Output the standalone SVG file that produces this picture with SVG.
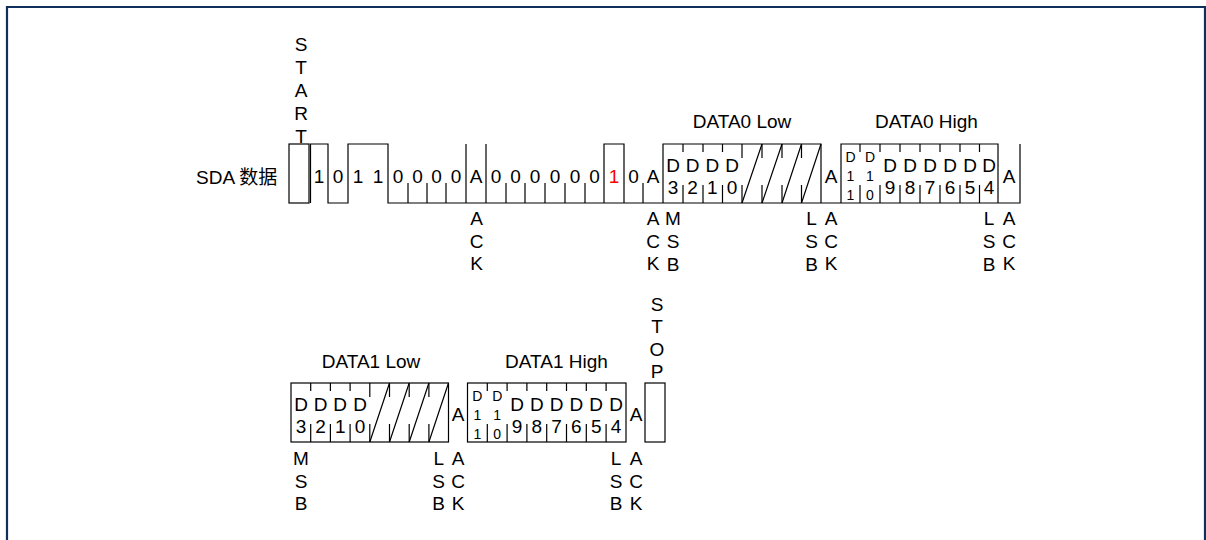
<svg xmlns="http://www.w3.org/2000/svg" width="1206" height="540" viewBox="0 0 1206 540">
<style>
.w{fill:none;stroke:#000;stroke-width:1.2}
.t{font-family:"Liberation Sans",Arial,sans-serif;font-size:19px;text-anchor:middle;fill:#000}
.s{font-size:14px}
.r{fill:#ff0000}
.cjk{font-family:"Liberation Sans","Noto Sans CJK SC",sans-serif;font-size:19px;fill:#000}
</style>
<rect x="0" y="0" width="1206" height="540" fill="#fff"/>
<path d="M7,540 V7 H1205 V540" fill="none" stroke="#0f2f5c" stroke-width="2.2"/>

<g id="signal-label"><text class="cjk" x="196" y="184">SDA 数据</text></g>

<g id="row1-wave" class="w">
<rect x="289" y="144" width="20" height="59"/>
<path d="M310.5,203 V144 H328 V203 H348 V144 H388 V203 H1020 V144"/>
<path d="M408,203 V183 M427,203 V183 M446,203 V183 M506,203 V183 M525,203 V183 M545,203 V183 M565,203 V183 M585,203 V183 M643,203 V183"/>
<path d="M466,144 V203 M486,144 V203"/>
<path d="M604,203 V144 H624 V203"/>
</g>

<g id="data0-low" class="w">
<path d="M663,203 V144 H821 V203"/>
<path d="M683,144 V152 M703,144 V152 M722.5,144 V152 M742,144 V158 M762,144 V158 M782,144 V158 M801.5,144 V158"/>
<path d="M683,185 V203 M703,185 V203 M722.5,185 V203 M742,185 V203 M762,185 V203 M782,185 V203 M801.5,185 V203"/>
<path d="M742,203 L762,144 M762,203 L782,144 M782,203 L801.5,144 M801.5,203 L821,144"/>
</g>

<g id="data0-high" class="w">
<path d="M841,203 V144 H998 V203"/>
<path d="M860,144 V152 M880,144 V152 M900,144 V152 M920,144 V152 M940,144 V152 M960,144 V152 M979.5,144 V152"/>
<path d="M860,185 V203 M880,185 V203 M900,185 V203 M920,185 V203 M940,185 V203 M960,185 V203 M979.5,185 V203"/>
</g>

<g id="row1-text" class="t">
<text x="301" y="51">S</text><text x="301" y="74">T</text><text x="301" y="97">A</text><text x="301" y="120">R</text><text x="301" y="143">T</text>
<text x="319" y="183">1</text><text x="338" y="183">0</text><text x="358" y="183">1</text><text x="378" y="183">1</text>
<text x="398" y="183">0</text><text x="417.5" y="183">0</text><text x="436.5" y="183">0</text><text x="456" y="183">0</text>
<text x="476" y="183">A</text>
<text x="496" y="183">0</text><text x="515.5" y="183">0</text><text x="535" y="183">0</text><text x="555" y="183">0</text><text x="575" y="183">0</text><text x="594.5" y="183">0</text>
<text class="r" x="614" y="183">1</text><text x="633.5" y="183">0</text><text x="653" y="183">A</text>
<text x="831" y="183">A</text><text x="1009" y="183">A</text>
<text x="742" y="128">DATA0 Low</text>
<text x="926.5" y="128">DATA0 High</text>
<text x="673" y="172">D</text><text x="692.6" y="172">D</text><text x="712.4" y="172">D</text><text x="732.1" y="172">D</text>
<text x="673" y="194">3</text><text x="692.6" y="194">2</text><text x="712.4" y="194">1</text><text x="732.1" y="194">0</text>
<text class="s" x="850.5" y="162">D</text><text class="s" x="850.5" y="181">1</text><text class="s" x="850.5" y="200">1</text>
<text class="s" x="870" y="162">D</text><text class="s" x="870" y="181">1</text><text class="s" x="870" y="200">0</text>
<text x="890" y="172">D</text><text x="910" y="172">D</text><text x="930" y="172">D</text><text x="950" y="172">D</text><text x="970" y="172">D</text><text x="989" y="172">D</text>
<text x="890" y="194">9</text><text x="910" y="194">8</text><text x="930" y="194">7</text><text x="950" y="194">6</text><text x="970" y="194">5</text><text x="989" y="194">4</text>
<text x="476.5" y="225">A</text><text x="476.5" y="248">C</text><text x="476.5" y="270">K</text>
<text x="653" y="225">A</text><text x="653" y="248">C</text><text x="653" y="270">K</text>
<text x="673" y="225">M</text><text x="673" y="248">S</text><text x="673" y="271">B</text>
<text x="811.5" y="225">L</text><text x="811.5" y="248">S</text><text x="811.5" y="271">B</text>
<text x="831" y="225">A</text><text x="831" y="248">C</text><text x="831" y="270">K</text>
<text x="989" y="225">L</text><text x="989" y="248">S</text><text x="989" y="271">B</text>
<text x="1009" y="225">A</text><text x="1009" y="248">C</text><text x="1009" y="270">K</text>
</g>

<g id="data1-low" class="w">
<rect x="291" y="383" width="157.5" height="59"/>
<path d="M310.7,383 V391 M330.4,383 V391 M350.1,383 V391 M369.8,383 V397 M389.5,383 V397 M409.2,383 V397 M428.9,383 V397"/>
<path d="M310.7,424 V442 M330.4,424 V442 M350.1,424 V442 M369.8,424 V442 M389.5,424 V442 M409.2,424 V442 M428.9,424 V442"/>
<path d="M369.8,442 L389.5,383 M389.5,442 L409.2,383 M409.2,442 L428.9,383 M428.9,442 L448.5,383"/>
</g>

<g id="data1-high" class="w">
<rect x="467.5" y="383" width="158.5" height="59"/>
<path d="M487.3,383 V391 M507.1,383 V391 M526.9,383 V391 M546.7,383 V391 M566.5,383 V391 M586.3,383 V391 M606.1,383 V391"/>
<path d="M487.3,424 V442 M507.1,424 V442 M526.9,424 V442 M546.7,424 V442 M566.5,424 V442 M586.3,424 V442 M606.1,424 V442"/>
</g>

<g id="stop" class="w"><rect x="645" y="383" width="20" height="59"/></g>

<g id="row2-text" class="t">
<text x="371" y="368">DATA1 Low</text>
<text x="556.5" y="368">DATA1 High</text>
<text x="301" y="411">D</text><text x="320.5" y="411">D</text><text x="340.2" y="411">D</text><text x="360" y="411">D</text>
<text x="301" y="433">3</text><text x="320.5" y="433">2</text><text x="340.2" y="433">1</text><text x="360" y="433">0</text>
<text x="458" y="421">A</text>
<text class="s" x="477.4" y="401">D</text><text class="s" x="477.4" y="420">1</text><text class="s" x="477.4" y="439">1</text>
<text class="s" x="497.2" y="401">D</text><text class="s" x="497.2" y="420">1</text><text class="s" x="497.2" y="439">0</text>
<text x="517" y="411">D</text><text x="536.8" y="411">D</text><text x="556.6" y="411">D</text><text x="576.4" y="411">D</text><text x="596.2" y="411">D</text><text x="616" y="411">D</text>
<text x="517" y="433">9</text><text x="536.8" y="433">8</text><text x="556.6" y="433">7</text><text x="576.4" y="433">6</text><text x="596.2" y="433">5</text><text x="616" y="433">4</text>
<text x="636" y="421">A</text>
<text x="657" y="311">S</text><text x="657" y="333">T</text><text x="657" y="356">O</text><text x="657" y="378">P</text>
<text x="301" y="465">M</text><text x="301" y="488">S</text><text x="301" y="510">B</text>
<text x="438.7" y="465">L</text><text x="438.7" y="488">S</text><text x="438.7" y="510">B</text>
<text x="458" y="465">A</text><text x="458" y="488">C</text><text x="458" y="510">K</text>
<text x="616" y="465">L</text><text x="616" y="488">S</text><text x="616" y="510">B</text>
<text x="636" y="465">A</text><text x="636" y="488">C</text><text x="636" y="510">K</text>
</g>
</svg>
